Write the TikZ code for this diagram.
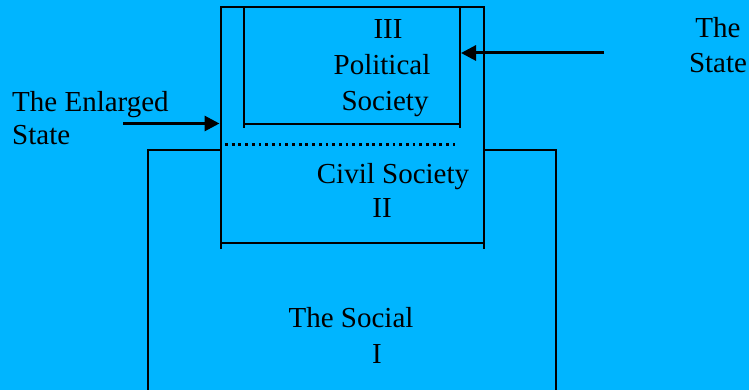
\documentclass[tikz,border=0pt]{standalone}
\usepackage{fontspec}
\setmainfont{Liberation Serif}
\usetikzlibrary{arrows.meta}
\definecolor{bg}{HTML}{00B5FF}
\begin{document}
\begin{tikzpicture}[x=1pt,y=-1pt,
  boxline/.style={line width=2pt},
  ptr/.style={line width=3pt,-{Triangle[length=15pt,width=15pt]}},
  dotline/.style={line width=3pt,dash pattern=on 2.8pt off 3.9pt},
  lbl/.style={anchor=base,inner sep=0pt,font=\fontsize{29}{35}\selectfont}]
\fill[bg] (0,0) rectangle (749,390);
\useasboundingbox (0,0) rectangle (749,390);
% outer box: The Social
\draw[boxline] (147.5,390) -- (147.5,150) -- (220.5,150);
\draw[boxline] (483.5,150) -- (556,150) -- (556,390);
% middle box: civil society
\draw[boxline] (220.5,249) -- (220.5,7) -- (483.5,7) -- (483.5,249);
\draw[boxline] (220.5,242.5) -- (483.5,242.5);
% inner box: political society
\draw[boxline] (244,7) -- (244,128);
\draw[boxline] (460,7) -- (460,128);
\draw[boxline] (244,124.5) -- (460,124.5);
% dotted separator
\coordinate (dl) at (225,145);
\coordinate (dr) at (455,145);
\draw[dotline] (dl) -- (dr);
% arrow targets and sources
\coordinate (enlargedTail) at (123,123.5);
\coordinate (enlargedTip) at (219.5,123.5);
\coordinate (stateTail) at (604,53);
\coordinate (stateTip) at (461,53);
\draw[ptr] (enlargedTail) -- (enlargedTip);
\draw[ptr] (stateTail) -- (stateTip);
% labels
\node[lbl] (t3) at (388,39) {III};
\node[lbl] (pol) at (382,75) {Political};
\node[lbl] (soc) at (385,111) {Society};
\node[lbl,anchor=base west] (enl1) at (12,112) {The Enlarged};
\node[lbl,anchor=base west] (enl2) at (12,145) {State};
\node[lbl] (st1) at (718,38) {The};
\node[lbl] (st2) at (718,73) {State};
\node[lbl] (civ) at (393,183) {Civil Society};
\node[lbl] (t2) at (382,218) {II};
\node[lbl] (soc1) at (351,327) {The Social};
\node[lbl] (t1) at (377,363) {I};
\end{tikzpicture}
\end{document}
